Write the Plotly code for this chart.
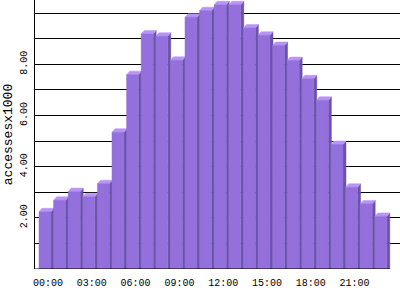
import plotly.graph_objects as go

# ---- data ----
hours = list(range(24))
accesses = [2.37, 2.82, 3.16, 2.96, 3.47, 5.48, 7.73, 9.32, 9.23, 8.29, 9.97, 10.23,
            10.46, 10.46, 9.55, 9.27, 8.87, 8.28, 7.57, 6.73, 5.00, 3.33, 2.68, 2.19]
xtick_vals = [0, 3, 6, 9, 12, 15, 18, 21]
xtick_text = ["00:00", "03:00", "06:00", "09:00", "12:00", "15:00", "18:00", "21:00"]
ytick_vals = [2, 4, 6, 8]
ytick_text = ["2.00", "4.00", "6.00", "8.00"]
grid_vals = [1, 3, 5, 7, 9, 10]

# ---- styling / geometry ----
FRONT = "#9370DB"
SIDE = "#6B53A8"
TOP = "#B994F6"
W = 0.82      # bar width (category units)
DX = 0.206    # 3D depth, x (category units)
DY = 0.137    # 3D depth, y (value units)
XR = [-0.89, 24.11]
YR = [0, 10.51]
FONT = "Liberation Mono"

def poly(faces):
    xs, ys = [], []
    for pts in faces:
        for (px, py) in pts:
            xs.append(px)
            ys.append(py)
        xs.append(pts[0][0]); ys.append(pts[0][1])
        xs.append(None); ys.append(None)
    return xs, ys

sides, tops, fronts = [], [], []
for h, v in zip(hours, accesses):
    l, r = h - W / 2, h + W / 2
    fronts.append([(l - DX, -DY), (r - DX, -DY), (r - DX, v - DY), (l - DX, v - DY)])
    sides.append([(r - DX, -DY), (r, 0), (r, v), (r - DX, v - DY)])
    tops.append([(l - DX, v - DY), (r - DX, v - DY), (r, v), (l, v)])

fig = go.Figure()
for faces, col in ((sides, SIDE), (tops, TOP), (fronts, FRONT)):
    xs, ys = poly(faces)
    fig.add_trace(go.Scatter(x=xs, y=ys, mode="lines", fill="toself",
                             fillcolor=col, line=dict(width=0.5, color=col),
                             hoverinfo="skip", showlegend=False))

fig.add_shape(type="line", xref="x", yref="y", x0=XR[0], x1=hours[-1] + W / 2,
              y0=0, y1=0, line=dict(color="black", width=1), layer="above")

fig.update_layout(
    width=400, height=300,
    margin=dict(l=35, r=0, t=0, b=31),
    paper_bgcolor="white", plot_bgcolor="white",
    showlegend=False,
    font=dict(family=FONT, color="black", size=10),
    xaxis=dict(range=XR, tickmode="array", tickvals=xtick_vals, ticktext=xtick_text,
               showgrid=False, zeroline=False, showline=False, ticks="",
               ticklabelstandoff=6,
               tickfont=dict(family=FONT, size=10, color="black")),
    yaxis=dict(range=YR, tickmode="array", tickvals=ytick_vals, ticktext=ytick_text,
               tickangle=-90, showgrid=True, gridcolor="black", gridwidth=1,
               minor=dict(tickmode="array", tickvals=grid_vals, showgrid=True,
                          gridcolor="black", gridwidth=1, ticks=""),
               showline=True, linecolor="black", linewidth=1, zeroline=False, ticks="",
               ticklabelstandoff=3,
               tickfont=dict(family=FONT, size=10, color="black")),
    yaxis_title=dict(text="accessesx1000", font=dict(family=FONT, size=13, color="black"),
                     standoff=3),
)

fig.write_html("out.html")
